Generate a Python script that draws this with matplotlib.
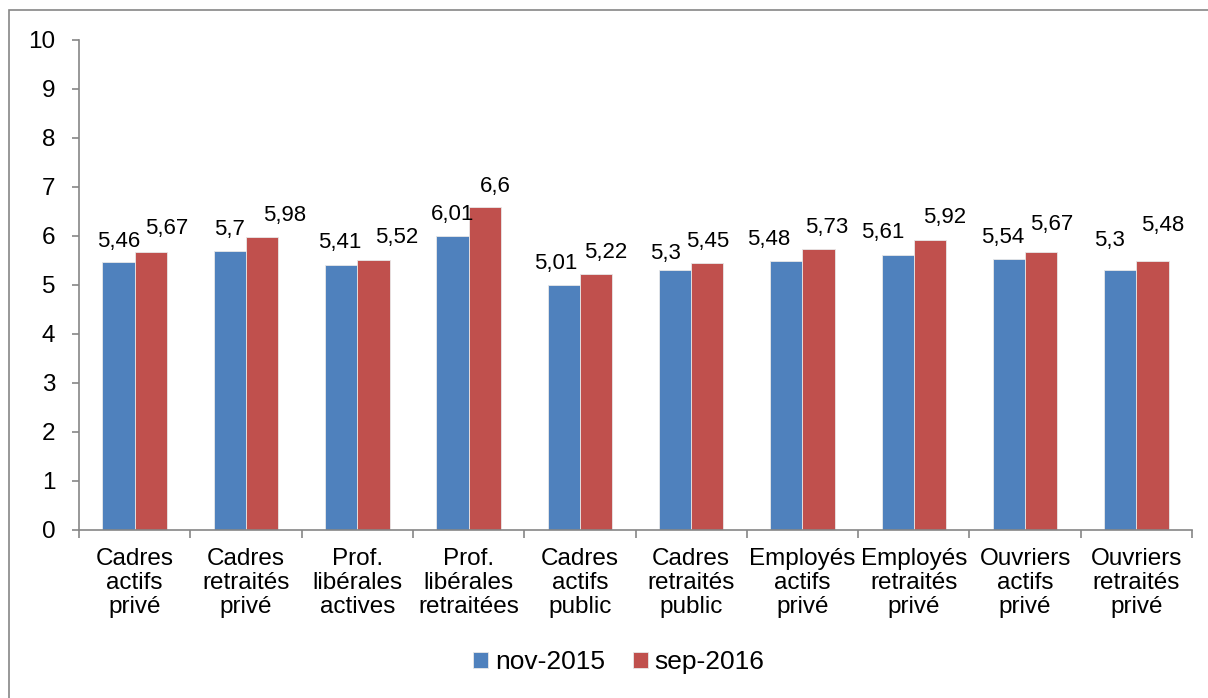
import numpy as np
import matplotlib.pyplot as plt
from matplotlib.patches import Rectangle

plt.rcParams['font.family'] = ['Liberation Sans', 'DejaVu Sans']

categories = ['Cadres\nactifs\nprivé', 'Cadres\nretraités\nprivé', 'Prof.\nlibérales\nactives',
              'Prof.\nlibérales\nretraitées', 'Cadres\nactifs\npublic', 'Cadres\nretraités\npublic',
              'Employés\nactifs\nprivé', 'Employés\nretraités\nprivé', 'Ouvriers\nactifs\nprivé',
              'Ouvriers\nretraités\nprivé']
nov_2015 = [5.46, 5.7, 5.41, 6.01, 5.01, 5.3, 5.48, 5.61, 5.54, 5.3]
sep_2016 = [5.67, 5.98, 5.52, 6.6, 5.22, 5.45, 5.73, 5.92, 5.67, 5.48]
series_names = ['nov-2015', 'sep-2016']
colors = ['#4F81BD', '#C0504D']

# label nudges (pixels), as placed in the original chart
label_dx = [[0, 0, -1, 0, -8, -10, -18, -15, -6, -11],
            [16, 23, 23, 11, 10, 0, 8, 15, 10, 10]]
label_dy = [[15, 16, 17, 16, 16, 11, 16, 17, 16, 24],
            [18, 16, 17, 15, 16, 16, 16, 17, 22, 30]]

fig = plt.figure(figsize=(12.08, 6.98), dpi=100)
ax = fig.add_axes([0.0654, 0.2407, 0.9214, 0.702])

axis_color = '#868686'
x = np.arange(len(categories))
w = 0.29
for i, (vals, name) in enumerate(zip([nov_2015, sep_2016], series_names)):
    pos = x + (i - 0.5) * w
    ax.bar(pos, vals, width=w, color=colors[i], edgecolor='#e8e8e8', linewidth=0.6, label=name)
    for j, (p, v) in enumerate(zip(pos, vals)):
        ax.annotate(('%g' % v).replace('.', ','), (p, v),
                    xytext=(label_dx[i][j], label_dy[i][j]), textcoords='offset pixels',
                    ha='center', va='baseline', fontsize=16)

ax.set_xlim(-0.5, len(categories) - 0.5)
ax.set_ylim(0, 10)
ax.set_yticks(range(11))
ax.tick_params(axis='y', labelsize=17.5, length=5, color=axis_color, width=1.2, pad=12)

ax.set_xticks(x)
ax.set_xticklabels(categories, fontsize=17.5, linespacing=1.11)
ax.tick_params(axis='x', length=0, pad=13)
ax.set_xticks(np.arange(-0.5, len(categories)), minor=True)
ax.tick_params(axis='x', which='minor', length=6, color=axis_color, width=1.2)

for s in ['top', 'right']:
    ax.spines[s].set_visible(False)
for s in ['left', 'bottom']:
    ax.spines[s].set_color(axis_color)
    ax.spines[s].set_linewidth(1.2)

ax.legend(loc='center', bbox_to_anchor=(0.5124, 0.0516), bbox_transform=fig.transFigure, ncol=2,
          frameon=False, fontsize=19, handlelength=0.54, handleheight=0.54, handletextpad=0.27,
          columnspacing=1.08)

fig.patches.append(Rectangle((9 / 1208, -0.1), 1.2, 1 - 10 / 698 + 0.1, transform=fig.transFigure,
                             fill=False, edgecolor=axis_color, linewidth=1.2))

fig.savefig('out.png', dpi=100)
